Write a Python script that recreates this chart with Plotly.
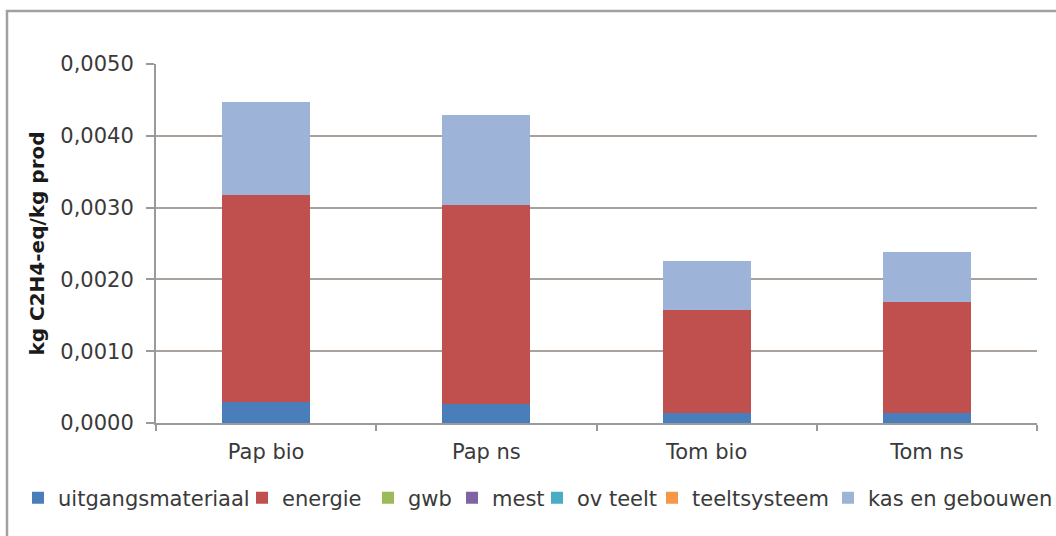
import plotly.graph_objects as go

categories = ["Pap bio", "Pap ns", "Tom bio", "Tom ns"]

uitgangsmateriaal = [0.00029, 0.00027, 0.00014, 0.00014]
energie = [0.00288, 0.00276, 0.00144, 0.00155]
gwb = [0.0, 0.0, 0.0, 0.0]
mest = [0.0, 0.0, 0.0, 0.0]
ov_teelt = [0.0, 0.0, 0.0, 0.0]
teeltsysteem = [0.0, 0.0, 0.0, 0.0]
kas_en_gebouwen = [0.00130, 0.00126, 0.00067, 0.00069]

series_names = ["uitgangsmateriaal", "energie", "gwb", "mest", "ov teelt",
                "teeltsysteem", "kas en gebouwen"]
series_values = [uitgangsmateriaal, energie, gwb, mest, ov_teelt,
                 teeltsysteem, kas_en_gebouwen]
series_colors = ["#4A7EBB", "#C0504D", "#9BBB59", "#8064A2", "#4BACC6",
                 "#F79646", "#9DB4D8"]

y_tickvals = [0.0, 0.001, 0.002, 0.003, 0.004, 0.005]

# legend entry text start positions (pixels from left of figure)
legend_text_px = [55, 279, 405, 489, 574, 689, 865]

font_family = "DejaVu Sans, Verdana, sans-serif"
text_col = "#3a3a3a"

ML, MR, MT, MB = 156, 19, 64, 113
W, H = 1056, 536
plot_w = W - ML - MR

fig = go.Figure()
legend_layouts = {}
for i, (name, vals, col) in enumerate(zip(series_names, series_values, series_colors)):
    key = "legend" if i == 0 else f"legend{i + 1}"
    fig.add_trace(go.Bar(name=name, x=categories, y=vals, legend=key,
                         marker=dict(color=col, line=dict(width=0))))
    left_px = legend_text_px[i] - 37
    legend_layouts[key] = dict(
        orientation="h", x=(left_px - ML) / plot_w, xanchor="left",
        y=-0.209, yanchor="middle", font=dict(size=21, color=text_col),
        bgcolor="rgba(0,0,0,0)", itemwidth=30,
    )

fig.update_layout(
    barmode="stack",
    bargap=0.6,
    width=W, height=H,
    margin=dict(l=ML, r=MR, t=MT, b=MB, autoexpand=False),
    paper_bgcolor="white",
    plot_bgcolor="white",
    separators=",.",
    font=dict(family=font_family, size=21, color=text_col),
    showlegend=True,
    xaxis=dict(
        showline=True, linecolor="#9a9a9a", linewidth=2,
        ticks="outside", tickson="boundaries", ticklen=6, tickwidth=2,
        tickcolor="#9a9a9a", showgrid=False,
        tickfont=dict(size=21, color=text_col),
        ticklabelstandoff=9,
    ),
    yaxis=dict(
        range=[0, 0.005], tickvals=y_tickvals, tickformat=".4f",
        showline=True, linecolor="#9a9a9a", linewidth=2,
        ticks="outside", ticklen=8, tickwidth=2, tickcolor="#9a9a9a",
        showgrid=True, gridcolor="#a9a19c", gridwidth=2,
        zeroline=False,
        tickfont=dict(size=21, color=text_col),
        ticklabelstandoff=8,
        title=dict(text="<b>kg C2H4-eq/kg prod</b>", standoff=10,
                   font=dict(size=20, color="#1a1a1a")),
    ),
    shapes=[dict(type="rect", xref="paper", yref="paper",
                 x0=(7 - ML) / plot_w, x1=1.05, y0=-0.4,
                 y1=1 + (MT - 11) / (H - MT - MB),
                 line=dict(color="#a0a0a0", width=2.5),
                 fillcolor="rgba(0,0,0,0)", layer="below")],
    **legend_layouts,
)

fig.write_html("out.html",
               config={"displayModeBar": False},
               post_script="document.body.style.margin='0px';"
                           "document.body.style.overflow='hidden';")
